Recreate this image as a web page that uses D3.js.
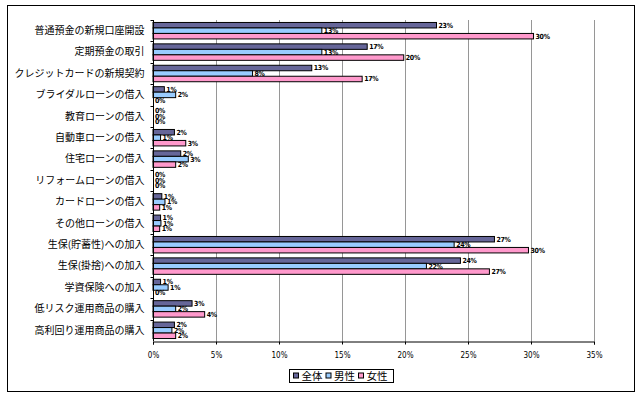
<!DOCTYPE html>
<html>
<head>
<meta charset="utf-8">
<script src="https://cdn.jsdelivr.net/npm/d3@7"></script>
<style>
  body { margin: 0; background: #fff; }
  svg { display: block; }
</style>
</head>
<body>
<div id="container"></div>
<script>
// data
const categories = [
  "普通預金の新規口座開設", "定期預金の取引", "クレジットカードの新規契約",
  "ブライダルローンの借入", "教育ローンの借入", "自動車ローンの借入",
  "住宅ローンの借入", "リフォームローンの借入", "カードローンの借入",
  "その他ローンの借入", "生保(貯蓄性)への加入", "生保(掛捨)への加入",
  "学資保険への加入", "低リスク運用商品の購入", "高利回り運用商品の購入"
];
const seriesNames = ["全体", "男性", "女性"];
const valuesAll    = [22.5, 17.0, 12.6, 0.9, 0, 1.7, 2.2, 0, 0.7, 0.6, 27.1, 24.4, 0.6, 3.1, 1.7];
const valuesMale   = [13.4, 13.4, 7.9, 1.8, 0, 0.6, 2.8, 0, 0.95, 0.63, 23.9, 21.7, 1.2, 1.8, 1.5];
const valuesFemale = [30.2, 19.9, 16.6, 0, 0, 2.6, 1.8, 0, 0.53, 0.53, 29.8, 26.7, 0, 4.1, 1.8];
const xTicks = [0, 5, 10, 15, 20, 25, 30, 35];

const width = 640;
const height = 399;
const colors = ["#666699", "#99ccff", "#ff99cc"];

const rows = categories.map((c, i) => ({
  category: c,
  values: [valuesAll[i], valuesMale[i], valuesFemale[i]]
}));

const svg = d3.select("#container")
  .append("svg")
  .attr("width", width)
  .attr("height", height);

// outer frame
svg.append("rect")
  .attr("x", 7.5).attr("y", 5.5)
  .attr("width", 627).attr("height", 386)
  .attr("fill", "#fff")
  .attr("stroke", "#000");

// layout
const plot = { left: 153, right: 594, top: 20, bottom: 341 };

// scales
const scaleX = d3.scaleLinear()
  .domain([0, 35])
  .range([plot.left, plot.right]);
const scaleY = d3.scaleBand()
  .domain(categories)
  .range([plot.top, plot.bottom]);
const scaleSeries = d3.scaleBand()
  .domain(seriesNames)
  .range([0, scaleY.bandwidth()])
  .paddingOuter(0.45);
const scaleColor = d3.scaleOrdinal()
  .domain(seriesNames)
  .range(colors);

// gridlines
svg.append("g")
  .selectAll("line")
  .data(xTicks.slice(1))
  .join("line")
  .attr("x1", d => Math.round(scaleX(d)) + 0.5)
  .attr("x2", d => Math.round(scaleX(d)) + 0.5)
  .attr("y1", plot.top)
  .attr("y2", plot.bottom)
  .attr("stroke", "#969696");

// bars
const groups = svg.append("g")
  .selectAll("g")
  .data(rows)
  .join("g")
  .attr("transform", d => `translate(0, ${scaleY(d.category)})`);

groups.selectAll("rect")
  .data(d => d.values.map((v, i) => ({ series: seriesNames[i], value: v })))
  .join("rect")
  .filter(d => d.value > 0)
  .attr("x", scaleX(0))
  .attr("y", d => scaleSeries(d.series))
  .attr("width", d => scaleX(d.value) - scaleX(0))
  .attr("height", scaleSeries.bandwidth())
  .attr("fill", d => scaleColor(d.series))
  .attr("stroke", "#000")
  .attr("stroke-width", 1);

groups.selectAll("text")
  .data(d => d.values.map((v, i) => ({ series: seriesNames[i], value: v })))
  .join("text")
  .attr("x", d => scaleX(d.value) + 2)
  .attr("y", d => scaleSeries(d.series) + scaleSeries.bandwidth() / 2)
  .attr("dy", "0.35em")
  .attr("font-family", "'DejaVu Sans Condensed', 'DejaVu Sans', sans-serif")
  .attr("font-size", 7)
  .attr("font-weight", "bold")
  .attr("letter-spacing", -0.3)
  .attr("fill", "#000")
  .text(d => Math.round(d.value) + "%");

// x axis
const axisX = svg.append("g")
  .attr("transform", `translate(0, ${plot.bottom + 0.5})`)
  .call(d3.axisBottom(scaleX)
    .tickValues(xTicks)
    .tickSize(3)
    .tickFormat(d => d + "%"));
axisX.select(".domain").attr("stroke", "#000");
axisX.selectAll(".tick text")
  .attr("y", 11)
  .attr("font-family", "'DejaVu Sans Condensed', 'DejaVu Sans', sans-serif")
  .attr("font-size", 8)
  .attr("fill", "#000");

// y axis
const axisY = svg.append("g")
  .attr("transform", `translate(${plot.left + 0.5}, 0)`)
  .call(d3.axisLeft(scaleY).tickSize(0).tickPadding(9));
axisY.select(".domain").attr("stroke", "#000").attr("d", `M0,${plot.top}V${plot.bottom}`);
axisY.selectAll(".tick text")
  .attr("font-family", "'Noto Sans CJK JP', sans-serif")
  .attr("font-size", 10)
  .attr("fill", "#000");
axisY.append("g")
  .selectAll("line")
  .data(categories)
  .join("line")
  .attr("x1", -3).attr("x2", 0)
  .attr("y1", d => Math.round(scaleY(d)) + 0.5)
  .attr("y2", d => Math.round(scaleY(d)) + 0.5)
  .attr("stroke", "#000");

// legend
const legend = svg.append("g")
  .attr("transform", "translate(289.5, 369.5)");
legend.append("rect")
  .attr("width", 104).attr("height", 13)
  .attr("fill", "#fff")
  .attr("stroke", "#000");
const legendItems = legend.selectAll("g")
  .data(seriesNames)
  .join("g")
  .attr("transform", (d, i) => `translate(${4 + i * 32.5}, 0)`);
legendItems.append("rect")
  .attr("x", 0).attr("y", 3.5)
  .attr("width", 5).attr("height", 5)
  .attr("fill", d => scaleColor(d))
  .attr("stroke", "#000");
legendItems.append("text")
  .attr("x", 8)
  .attr("y", 6.5)
  .attr("dy", "0.36em")
  .attr("font-family", "'Noto Sans CJK JP', sans-serif")
  .attr("font-size", 10.5)
  .text(d => d);
</script>
</body>
</html>
